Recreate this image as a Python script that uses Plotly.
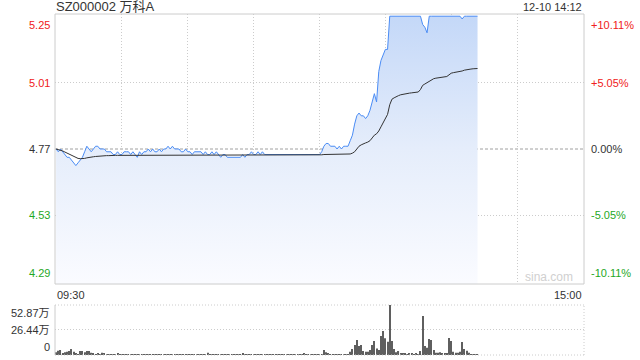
import plotly.graph_objects as go

# ---------------- data ----------------
title_text = "SZ000002 万科A"
stamp_text = "12-10 14:12"
prev_close = 4.77
price_ticks = [5.25, 5.01, 4.77, 4.53, 4.29]
pct_ticks = ["+10.11%", "+5.05%", "0.00%", "-5.05%", "-10.11%"]
vol_ticks = [52.87, 26.44, 0]
vol_tick_text = ["52.87万", "26.44万", "0"]
time_labels = ["09:30", "15:00"]
grid_minutes = [30, 60, 90, 120, 150, 180, 210]
session_minutes = 240

price = [
    4.77, 4.76, 4.77, 4.76, 4.75, 4.74, 4.74, 4.73, 4.72, 4.71,
    4.72, 4.73, 4.74, 4.76, 4.78, 4.77, 4.76, 4.77, 4.78, 4.78,
    4.77, 4.77, 4.77, 4.76, 4.76, 4.76, 4.75, 4.75, 4.76, 4.75,
    4.75, 4.76, 4.76, 4.76, 4.75, 4.76, 4.75, 4.74, 4.76, 4.75,
    4.76, 4.76, 4.77, 4.76, 4.77, 4.76, 4.76, 4.77, 4.76, 4.77,
    4.77, 4.78, 4.77, 4.78, 4.77, 4.77, 4.77, 4.76, 4.76, 4.77,
    4.76, 4.76, 4.75, 4.76, 4.76, 4.76, 4.76, 4.75, 4.76, 4.75,
    4.75, 4.76, 4.75, 4.76, 4.75, 4.74, 4.75, 4.75, 4.74, 4.74,
    4.74, 4.74, 4.74, 4.74, 4.74, 4.75, 4.74, 4.75, 4.75, 4.76,
    4.75, 4.75, 4.76, 4.75, 4.76, 4.75, 4.75, 4.75, 4.75, 4.75,
    4.75, 4.75, 4.75, 4.75, 4.75, 4.75, 4.75, 4.75, 4.75, 4.75,
    4.75, 4.75, 4.75, 4.75, 4.75, 4.75, 4.75, 4.75, 4.75, 4.75,
    4.75, 4.76, 4.78, 4.79, 4.79, 4.78, 4.78, 4.78, 4.77, 4.78,
    4.77, 4.78, 4.78, 4.78, 4.80, 4.82, 4.86, 4.89, 4.90, 4.89,
    4.89, 4.88, 4.89, 4.91, 4.94, 4.97, 4.94, 5.05, 5.09, 5.11,
    5.13, 5.13, 5.25, 5.25, 5.25, 5.25, 5.25, 5.25, 5.25, 5.25,
    5.25, 5.25, 5.25, 5.25, 5.25, 5.25, 5.25, 5.22, 5.21, 5.19,
    5.25, 5.25, 5.25, 5.25, 5.25, 5.25, 5.25, 5.25, 5.25, 5.25,
    5.25, 5.25, 5.25, 5.25, 5.25, 5.24, 5.25, 5.25, 5.25, 5.25,
    5.25, 5.25, 5.25,
]

avg_price = [
    4.770, 4.768, 4.766, 4.763, 4.759, 4.755, 4.750, 4.746, 4.742, 4.738,
    4.736, 4.735, 4.735, 4.736, 4.738, 4.740, 4.741, 4.742, 4.743, 4.744,
    4.745, 4.745, 4.746, 4.746, 4.746, 4.747, 4.747, 4.747, 4.747, 4.747,
    4.747, 4.748, 4.748, 4.748, 4.748, 4.748, 4.748, 4.748, 4.748, 4.748,
    4.748, 4.748, 4.748, 4.748, 4.748, 4.749, 4.749, 4.749, 4.749, 4.749,
    4.749, 4.749, 4.749, 4.749, 4.749, 4.749, 4.749, 4.749, 4.749, 4.749,
    4.749, 4.749, 4.749, 4.749, 4.749, 4.749, 4.749, 4.749, 4.749, 4.749,
    4.749, 4.749, 4.749, 4.749, 4.749, 4.749, 4.749, 4.749, 4.749, 4.749,
    4.749, 4.749, 4.749, 4.749, 4.749, 4.749, 4.749, 4.749, 4.749, 4.749,
    4.749, 4.749, 4.749, 4.749, 4.749, 4.749, 4.749, 4.749, 4.749, 4.749,
    4.749, 4.749, 4.749, 4.749, 4.749, 4.749, 4.749, 4.749, 4.749, 4.749,
    4.749, 4.749, 4.749, 4.749, 4.749, 4.749, 4.749, 4.749, 4.749, 4.749,
    4.749, 4.749, 4.750, 4.750, 4.750, 4.750, 4.750, 4.750, 4.750, 4.750,
    4.750, 4.750, 4.750, 4.750, 4.752, 4.755, 4.760, 4.770, 4.780, 4.785,
    4.790, 4.792, 4.795, 4.800, 4.810, 4.820, 4.825, 4.835, 4.850, 4.865,
    4.880, 4.895, 4.930, 4.950, 4.955, 4.960, 4.963, 4.966, 4.968, 4.970,
    4.971, 4.972, 4.973, 4.974, 4.975, 4.976, 4.985, 5.000, 5.005, 5.010,
    5.015, 5.020, 5.024, 5.026, 5.027, 5.028, 5.029, 5.030, 5.032, 5.038,
    5.044, 5.046, 5.047, 5.048, 5.050, 5.052, 5.055, 5.057, 5.058, 5.059,
    5.060, 5.060, 5.061,
]

volume = [
    2.8, 4.6, 5.3, 1.7, 2.8, 3.5, 4.2, 6.3, 3.5, 1.7,
    0.7, 4.2, 4.2, 2.8, 4.2, 4.2, 2.5, 1.7, 1.0, 1.7,
    1.0, 2.5, 1.3, 1.0, 0.8, 0.5, 0.9, 0.6, 1.2, 0.7,
    0.5, 0.8, 0.6, 0.4, 0.7, 0.9, 0.5, 0.6, 0.8, 0.5,
    0.4, 0.6, 0.7, 0.5, 0.6, 0.8, 0.5, 0.7, 0.4, 0.6,
    0.5, 0.8, 0.6, 0.5, 0.7, 0.5, 0.4, 0.6, 0.5, 0.7,
    0.6, 0.4, 0.5, 0.6, 0.5, 0.7, 0.4, 0.6, 0.5, 2.5,
    0.6, 0.5, 0.4, 0.6, 0.5, 0.4, 0.6, 0.5, 0.7, 0.4,
    0.5, 0.6, 0.5, 0.4, 0.6, 1.8, 0.5, 0.4, 0.6, 0.5,
    0.4, 0.5, 0.6, 0.4, 0.5, 0.4, 0.6, 0.5, 0.4, 0.5,
    0.4, 0.6, 0.5, 0.4, 0.5, 0.4, 0.5, 0.6, 0.4, 0.5,
    0.4, 0.5, 0.6, 2.0, 0.6, 0.4, 0.5, 0.4, 0.6, 0.5,
    0.4, 0.8, 5.3, 3.0, 1.5, 1.0, 0.8, 0.6, 0.5, 0.7,
    0.5, 0.6, 0.4, 0.5, 3.5, 6.3, 10.6, 15.9, 9.5, 10.6,
    4.2, 3.5, 3.5, 5.3, 10.6, 14.8, 7.0, 5.3, 20.0, 25.4,
    17.6, 14.0, 52.87, 14.8, 6.3, 2.8, 4.2, 1.7, 1.7, 1.7,
    0.7, 2.0, 2.0, 1.0, 2.0, 1.0, 4.2, 41.2, 9.5, 7.7,
    16.9, 15.9, 5.3, 2.3, 2.3, 3.0, 2.0, 2.0, 2.0, 18.0,
    14.8, 3.5, 2.5, 2.5, 3.5, 13.7, 6.3, 4.5, 2.5, 0.7,
    0.7, 0.7, 0.3,
]

minutes = list(range(len(price)))

# ---------------- style ----------------
FONT = "Arial, 'Liberation Sans', 'Noto Sans CJK SC', sans-serif"
RED = "#f02020"
GREEN = "#1fa81f"
DARK = "#333333"
GRID = "#cccccc"
LINE_BLUE = "#4a8cf5"

def tick_color(v):
    if v > prev_close:
        return RED
    if v < prev_close:
        return GREEN
    return DARK

fig = go.Figure()

fig.add_trace(go.Scatter(
    x=minutes, y=price, mode="lines",
    line=dict(color=LINE_BLUE, width=1),
    fill="tozeroy",
    fillgradient=dict(
        type="vertical",
        colorscale=[[0, "rgba(250,251,255,1)"], [0.5, "rgba(229,237,251,1)"], [1, "rgba(196,216,248,1)"]],
        start=price_ticks[-1], stop=price_ticks[0],
    ),
    xaxis="x", yaxis="y", hoverinfo="skip",
))
fig.add_trace(go.Scatter(
    x=minutes, y=avg_price, mode="lines",
    line=dict(color=DARK, width=1),
    xaxis="x", yaxis="y", hoverinfo="skip",
))
fig.add_trace(go.Bar(
    x=minutes, y=volume, marker=dict(color="#5f5f5f", line=dict(width=0)),
    xaxis="x2", yaxis="y2", hoverinfo="skip",
))

pad = 0.008
main_dom = [0.2082, 1.0]
vol_dom = [0.0, 0.1466]

fig.update_layout(
    width=640, height=360,
    margin=dict(l=55, r=56, t=14, b=5),
    paper_bgcolor="white", plot_bgcolor="white",
    showlegend=False, bargap=0.5,
    font=dict(family=FONT, size=11, color=DARK),
    xaxis=dict(
        domain=[0, 1], range=[-0.5, session_minutes + 0.5],
        tickvals=grid_minutes, showticklabels=False, ticks="",
        showgrid=True, gridcolor=GRID, griddash="1px,2px", gridwidth=1,
        zeroline=False, showline=False, fixedrange=True,
    ),
    yaxis=dict(
        domain=main_dom, range=[price_ticks[-1] - pad, price_ticks[0] + pad],
        tickvals=[price_ticks[1], price_ticks[3]], showticklabels=False, ticks="",
        showgrid=True, gridcolor=GRID, griddash="1px,2px", gridwidth=1,
        zeroline=False, showline=False, fixedrange=True,
    ),
    xaxis2=dict(
        domain=[0, 1], range=[-0.5, session_minutes + 0.5], anchor="y2",
        showticklabels=False, ticks="", showgrid=False, zeroline=False,
        showline=False, fixedrange=True,
    ),
    yaxis2=dict(
        domain=vol_dom, range=[0, vol_ticks[0]], anchor="x2",
        tickvals=[vol_ticks[1]], showticklabels=False, ticks="",
        showgrid=True, gridcolor=GRID, griddash="1px,2px", gridwidth=1,
        zeroline=False, showline=False, fixedrange=True,
    ),
)

shapes = []
# previous close dashed line
shapes.append(dict(type="line", xref="x domain", yref="y", x0=0, x1=1,
                   y0=prev_close, y1=prev_close,
                   line=dict(color="#a0a0a0", width=1, dash="3px,2px"), layer="below"))
# main panel border
shapes.append(dict(type="rect", xref="x domain", yref="y domain", x0=0, x1=1, y0=0, y1=1,
                   line=dict(color=GRID, width=1)))
# volume panel border: left solid, others dotted
shapes.append(dict(type="line", xref="x2 domain", yref="y2 domain", x0=0, x1=0, y0=0, y1=1,
                   line=dict(color=GRID, width=1)))
for (a, b, c, d) in [(0, 1, 1, 1), (1, 1, 0, 1), (0, 1, 0, 0)]:
    shapes.append(dict(type="line", xref="x2 domain", yref="y2 domain",
                       x0=a, x1=b, y0=c, y1=d,
                       line=dict(color=GRID, width=1, dash="1px,2px")))
fig.update_layout(shapes=shapes)

ann = []
n = len(price_ticks)
for i, (v, t) in enumerate(zip(price_ticks, pct_ticks)):
    ya = "top" if i == 0 else ("bottom" if i == n - 1 else "middle")
    ys = -1 if i == 0 else (1 if i == n - 1 else 0)
    c = tick_color(v)
    ann.append(dict(xref="paper", yref="y", x=0, y=v, text=f"{v:.2f}",
                    xanchor="right", yanchor=ya, xshift=-3, yshift=ys, showarrow=False,
                    font=dict(family=FONT, size=11, color=c)))
    ann.append(dict(xref="paper", yref="y", x=1, y=v, text=t,
                    xanchor="left", yanchor=ya, xshift=5, yshift=ys, showarrow=False,
                    font=dict(family=FONT, size=11, color=c)))
nv = len(vol_ticks)
for i, (v, t) in enumerate(zip(vol_ticks, vol_tick_text)):
    ya = "top" if i == 0 else ("bottom" if i == nv - 1 else "middle")
    ann.append(dict(xref="paper", yref="y2", x=0, y=v, text=t,
                    xanchor="right", yanchor=ya, xshift=-3, showarrow=False,
                    font=dict(family=FONT, size=11, color=DARK)))
# time labels under main panel
ann.append(dict(xref="paper", yref="y domain", x=0, y=0, text=time_labels[0],
                xanchor="left", yanchor="top", yshift=-3, showarrow=False,
                font=dict(family=FONT, size=11, color=DARK)))
ann.append(dict(xref="paper", yref="y domain", x=1, y=0, text=time_labels[1],
                xanchor="right", yanchor="top", yshift=-3, showarrow=False,
                font=dict(family=FONT, size=11, color=DARK)))
# title and stamp
ann.append(dict(xref="paper", yref="y domain", x=0, y=1, text=title_text,
                xanchor="left", yanchor="bottom", xshift=-1, yshift=-2, showarrow=False,
                font=dict(family=FONT, size=13, color=DARK)))
ann.append(dict(xref="paper", yref="y domain", x=1, y=1, text=stamp_text,
                xanchor="right", yanchor="bottom", yshift=-1, showarrow=False,
                font=dict(family=FONT, size=11, color=DARK)))
# watermark
ann.append(dict(xref="paper", yref="y domain", x=1, y=0, text="sina.com",
                xanchor="right", yanchor="bottom", xshift=-9, yshift=-2, showarrow=False,
                font=dict(family=FONT, size=12, color="#d0d0d0")))
fig.update_layout(annotations=ann)

fig.write_html("out.html", config={"displayModeBar": False})
